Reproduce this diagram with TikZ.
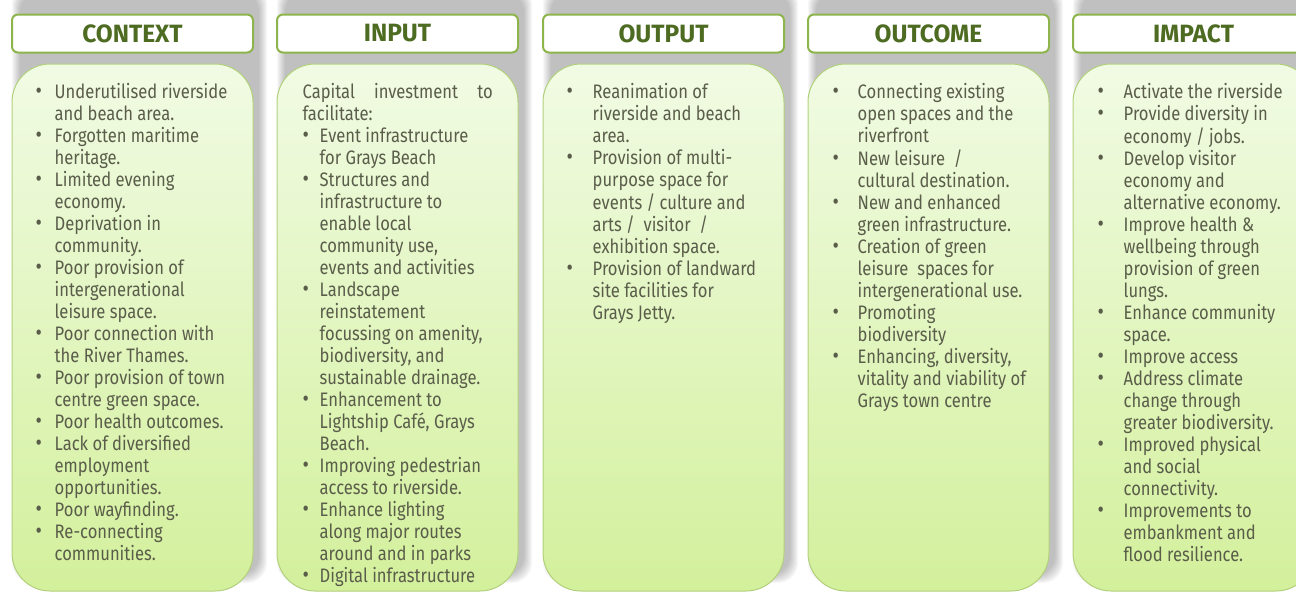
\documentclass[tikz,border=0pt]{standalone}
\usepackage{fontspec}
\setmainfont{Fira Sans}[FakeStretch=0.85]
\newfontfamily\headfont{Fira Sans}[FakeStretch=0.98]
\usetikzlibrary{positioning}

\definecolor{headgreen}{HTML}{4E6B22}
\definecolor{framegreen}{HTML}{8DB54B}
\definecolor{bodytop}{HTML}{F1FBE4}
\definecolor{bodybot}{HTML}{D3F09C}
\definecolor{bodyline}{HTML}{B2D07C}
\definecolor{textgrey}{HTML}{5A5D4A}

\newcommand{\bl}{{\fontsize{23}{22}\selectfont\textbullet}}
\newcommand{\listcol}[2]{\begin{tabular}{@{}p{#1}@{}l@{}}#2\end{tabular}}

\begin{document}
\begin{tikzpicture}[x=1pt, y=-1pt,
  head box/.style={draw=framegreen, line width=2pt, fill=white, rounded corners=6pt,
    minimum width=241pt, minimum height=38pt, inner sep=0pt, text=headgreen,
    font=\headfont\bfseries\fontsize{25}{25}\selectfont},
  body box/.style={draw=bodyline, line width=1pt, rounded corners=38pt,
    top color=bodytop, bottom color=bodybot,
    minimum width=241pt, minimum height=527pt, inner sep=0pt},
  list text/.style={anchor=north west, inner sep=0pt, text=textgrey,
    font=\fontsize{19.5}{22}\selectfont}]

  \clip (0,0) rectangle (1296,592);

  % soft shadows behind the columns
  \foreach \cx in {12, 277, 543, 808, 1073} {
    \foreach \k in {0,...,8}
      \fill[black, opacity=0.03, rounded corners=20pt]
        (\cx+8-\k, -8-\k) rectangle (\cx+247+\k, 575+\k);
  }

  % Define nodes
  \node[head box] (chead) at (132.5,33.5) {CONTEXT};
  \node[head box] (ihead) at (397.5,33.5) {INPUT};
  \node[head box] (ohead) at (663.5,33.5) {OUTPUT};
  \node[head box] (uhead) at (928.5,33.5) {OUTCOME};
  \node[head box] (mhead) at (1193.5,33.5) {IMPACT};

  \node[body box] (cbody) [below=10pt of chead] {};
  \node[body box] (ibody) [below=10pt of ihead] {};
  \node[body box] (obody) [below=10pt of ohead] {};
  \node[body box] (ubody) [below=10pt of uhead] {};
  \node[body box] (mbody) [below=10pt of mhead] {};

  % lists
  \node[list text] (clist) at ([shift={(24,19.6)}]cbody.north west) {\listcol{19pt}{%
    \bl & Underutilised riverside\\
        & and beach area.\\
    \bl & Forgotten maritime\\
        & heritage.\\
    \bl & Limited evening\\
        & economy.\\
    \bl & Deprivation in\\
        & community.\\
    \bl & Poor provision of\\
        & intergenerational\\
        & leisure space.\\
    \bl & Poor connection with\\
        & the River Thames.\\
    \bl & Poor provision of town\\
        & centre green space.\\
    \bl & Poor health outcomes.\\
    \bl & Lack of diversified\\
        & employment\\
        & opportunities.\\
    \bl & Poor wayfinding.\\
    \bl & Re-connecting\\
        & communities.}};

  \node[list text] (ilist) at ([shift={(26,19.6)}]ibody.north west) {\listcol{17pt}{%
    \multicolumn{2}{@{}l@{}}{\makebox[190pt][s]{Capital investment to}}\\
    \multicolumn{2}{@{}l@{}}{facilitate:}\\
    \bl & Event infrastructure\\
        & for Grays Beach\\
    \bl & Structures and\\
        & infrastructure to\\
        & enable local\\
        & community use,\\
        & events and activities\\
    \bl & Landscape\\
        & reinstatement\\
        & focussing on amenity,\\
        & biodiversity, and\\
        & sustainable drainage.\\
    \bl & Enhancement to\\
        & Lightship Café, Grays\\
        & Beach.\\
    \bl & Improving pedestrian\\
        & access to riverside.\\
    \bl & Enhance lighting\\
        & along major routes\\
        & around and in parks\\
    \bl & Digital infrastructure}};

  \node[list text] (olist) at ([shift={(24,19.6)}]obody.north west) {\listcol{26pt}{%
    \bl & Reanimation of\\
        & riverside and beach\\
        & area.\\
    \bl & Provision of multi-\\
        & purpose space for\\
        & events / culture and\\
        & arts /\ \ visitor\ \ /\\
        & exhibition space.\\
    \bl & Provision of landward\\
        & site facilities for\\
        & Grays Jetty.}};

  \node[list text] (ulist) at ([shift={(25,19.6)}]ubody.north west) {\listcol{25pt}{%
    \bl & Connecting existing\\
        & open spaces and the\\
        & riverfront\\
    \bl & New leisure\ \ /\\
        & cultural destination.\\
    \bl & New and enhanced\\
        & green infrastructure.\\
    \bl & Creation of green\\
        & leisure\ \ spaces for\\
        & intergenerational use.\\
    \bl & Promoting\\
        & biodiversity\\
    \bl & Enhancing, diversity,\\
        & vitality and viability of\\
        & Grays town centre}};

  \node[list text] (mlist) at ([shift={(25,19.6)}]mbody.north west) {\listcol{26pt}{%
    \bl & Activate the riverside\\
    \bl & Provide diversity in\\
        & economy / jobs.\\
    \bl & Develop visitor\\
        & economy and\\
        & alternative economy.\\
    \bl & Improve health \&\\
        & wellbeing through\\
        & provision of green\\
        & lungs.\\
    \bl & Enhance community\\
        & space.\\
    \bl & Improve access\\
    \bl & Address climate\\
        & change through\\
        & greater biodiversity.\\
    \bl & Improved physical\\
        & and social\\
        & connectivity.\\
    \bl & Improvements to\\
        & embankment and\\
        & flood resilience.}};
\end{tikzpicture}
\end{document}
